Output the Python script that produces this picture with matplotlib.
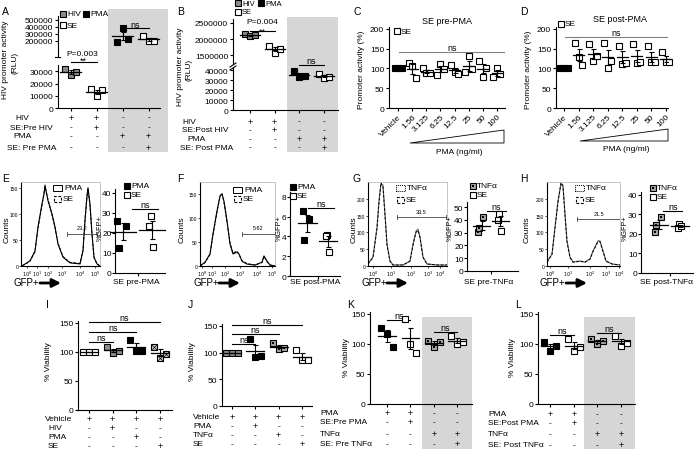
import numpy as np
import matplotlib
matplotlib.use('Agg')
import matplotlib.pyplot as plt
import matplotlib.transforms as mtrans
from matplotlib.patches import Rectangle, Polygon
from matplotlib.lines import Line2D
from matplotlib.ticker import FormatStrFormatter

plt.rcParams['font.family'] = ['Liberation Sans', 'DejaVu Sans']

# ---------------- data ----------------
# A: HIV promoter activity (RLU), SE pre-treatment
A_hiv = [32000, 27000, 29500]
A_se_hiv = [15500, 10000, 14500]
A_pma = [190000, 390000, 230000]
A_se_pma = [265000, 205000, 205000]
A_rows = ["HIV", "SE:Pre HIV", "PMA", "SE: Pre PMA"]
A_signs = ["++--", "-+--", "--++", "---+"]
# B: SE post-treatment
B_hiv = [2150000, 2080000, 2130000]
B_se_hiv = [1780000, 1580000, 1700000]
B_pma = [39000, 33000, 34500]
B_se_pma = [36000, 32000, 33500]
B_rows = ["HIV", "SE:Post HIV", "PMA", "SE: Post PMA"]
B_signs = ["++--", "-+--", "--++", "---+"]
# C, D: promoter activity (%) vs PMA dose
dose_labels = ["Vehicle", "1.56", "3.125", "6.25", "12.5", "25", "50", "100"]
C_vals = [[100, 100, 100], [113, 107, 76], [101, 88, 88], [84, 112, 99],
          [109, 91, 87], [91, 131, 99], [120, 78, 101], [78, 101, 87]]
D_vals = [[100, 100, 100], [164, 129, 109], [161, 118, 131], [164, 101, 120],
          [158, 111, 115], [161, 115, 116], [156, 116, 117], [141, 116, 116]]
# E-H: flow histograms (channel position, counts)
E_x = [1, 9, 14, 17, 21, 23, 24, 27, 31, 34, 37, 42, 49, 59, 62, 64, 66, 67, 69, 71, 73, 76, 79]
E_pma = [0, 10, 29, 75, 119, 138, 155, 125, 100, 75, 42, 17, 6, 4, 29, 87, 133, 150, 119, 62, 17, 4, 0]
E_se = [0, 9, 27, 72, 117, 140, 152, 128, 98, 73, 44, 18, 7, 5, 31, 90, 136, 147, 115, 60, 16, 4, 0]
F_x = [0, 5, 10, 13, 17, 20, 22, 24, 27, 30, 33, 37, 39, 42, 47, 55, 62, 64, 67, 70, 75]
F_pma = [0, 8, 25, 67, 115, 146, 150, 135, 94, 46, 25, 29, 25, 10, 4, 2, 8, 21, 10, 2, 0]
F_se = [0, 7, 24, 65, 112, 144, 152, 132, 92, 48, 27, 31, 24, 11, 5, 2, 7, 20, 9, 2, 0]
G_x = [0, 5, 9, 11, 13, 15, 17, 19, 22, 25, 35, 42, 45, 48, 50, 52, 55, 59, 69, 79]
G_tnf = [6, 27, 116, 194, 245, 240, 155, 66, 15, 3, 3, 15, 66, 104, 110, 87, 27, 6, 3, 3]
G_se = [6, 25, 112, 190, 248, 236, 150, 62, 14, 3, 3, 14, 62, 100, 106, 84, 26, 6, 3, 3]
H_x = [0, 5, 8, 11, 14, 16, 18, 20, 23, 26, 33, 38, 43, 46, 51, 53, 56, 59, 65, 73]
H_tnf = [12, 36, 116, 194, 245, 240, 155, 75, 27, 12, 15, 12, 21, 45, 75, 75, 45, 15, 6, 3]
H_se = [11, 34, 112, 190, 248, 236, 150, 72, 25, 11, 14, 11, 20, 43, 72, 72, 43, 14, 6, 3]
E_gate, F_gate, G_gate, H_gate = "23.2", "5.62", "33.5", "21.5"
# %GFP+ scatter
E_pma_pct = [26, 23.5, 12.5]
E_se_pct = [28.5, 23.5, 13]
F_pma_pct = [6.6, 5.75, 3.6]
F_se_pct = [4.1, 4.0, 2.4]
G_tnf_pct = [30.5, 42, 34]
G_se_pct = [45, 40, 31.5]
H_tnf_pct = [20.8, 28.7, 24.7]
H_se_pct = [25.2, 22.9, 24.3]
# I-L: % viability
I_vals = [[100, 100, 100], [108, 98, 101], [121, 101, 101], [109, 89, 97]]
I_rows = ["Vehicle", "HIV", "PMA", "SE"]
I_signs = ["++++", "-+--", "--+-", "---+"]
J_vals = [[100, 100, 100], [125, 92, 94], [118, 107, 109], [105, 86, 86]]
J_rows = ["Vehicle", "PMA", "TNF\u03b1", "SE"]
J_signs = ["++++", "-+--", "--+-", "---+"]
K_vals = [[127, 117, 95], [142, 100, 85], [105, 95, 103], [113, 100, 103]]
K_rows = ["PMA", "SE:Pre PMA", "TNF\u03b1", "SE: Pre TNF\u03b1"]
K_signs = ["++--", "-+--", "--++", "---+"]
L_vals = [[103, 88, 97], [108, 88, 95], [108, 100, 105], [113, 97, 102]]
L_rows = ["PMA", "SE:Post PMA", "TNF\u03b1", "SE: Post TNF\u03b1"]
L_signs = ["++--", "-+--", "--++", "---+"]

# ---------------- helpers ----------------
W, H = 696, 452
FS = 6
GRAY = '#d6d6d6'
HIVG = '#8c8c8c'
TNFG = '#a8a8a8'
fig = plt.figure(figsize=(W / 100, H / 100), dpi=100)


def axpx(l, t, r, b, box=False):
    ax = fig.add_axes([l / W, 1 - b / H, (r - l) / W, (b - t) / H])
    ax.set_facecolor('none')
    if box:
        for s in ('top', 'right'):
            ax.spines[s].set_color('#bbbbbb')
            ax.spines[s].set_linewidth(0.6)
    else:
        ax.spines['top'].set_visible(False)
        ax.spines['right'].set_visible(False)
    for s in ('left', 'bottom'):
        ax.spines[s].set_linewidth(0.8)
    ax.tick_params(labelsize=FS, length=2.5, width=0.8, pad=1)
    return ax


def ftext(x, y, s, **kw):
    kw.setdefault('fontsize', FS)
    kw.setdefault('va', 'center')
    fig.text(x / W, 1 - y / H, s, **kw)


def shade(l, t, r, b):
    fig.add_artist(Rectangle((l / W, 1 - b / H), (r - l) / W, (b - t) / H,
                             transform=fig.transFigure, facecolor=GRAY, lw=0, zorder=-5))


def fline(xs, ys, **kw):
    kw.setdefault('color', 'black')
    kw.setdefault('lw', 0.8)
    fig.add_artist(Line2D([x / W for x in xs], [1 - y / H for y in ys],
                          transform=fig.transFigure, **kw))


def legmark(x, y, face, kind='plain', label='', ms=5, fs=FS):
    fig.add_artist(Line2D([x / W], [1 - y / H], marker='s', ms=ms, mfc=face, mec='black', mew=0.8,
                          ls='none', transform=fig.transFigure))
    if kind == 'dot':
        fig.add_artist(Line2D([x / W], [1 - y / H], marker='s', ms=ms * 0.35, mfc='black', mec='black',
                              mew=0, ls='none', transform=fig.transFigure))
    ftext(x + 4, y, label, ha='left', fontsize=fs)


def group(ax, x, vals, face, kind='plain', offs=(-0.22, 0.0, 0.22), mw=0.35, ms=5.0, cap=1.8):
    xs = [x + o for o in offs]
    ax.plot(xs, vals, ls='none', marker='s', ms=ms, mfc=face, mec='black', mew=0.8, zorder=3, clip_on=False)
    if kind == 'dot':
        ax.plot(xs, vals, ls='none', marker='s', ms=ms * 0.35, mfc='black', mec='black', mew=0, zorder=4, clip_on=False)
    elif kind == 'x':
        ax.plot(xs, vals, ls='none', marker='x', ms=ms * 0.8, mec='black', mew=0.5, zorder=4, clip_on=False)
    m = float(np.mean(vals))
    se = float(np.std(vals, ddof=1) / np.sqrt(len(vals)))
    ax.plot([x - mw, x + mw], [m, m], color='black', lw=0.9, zorder=5, clip_on=False)
    ax.errorbar([x], [m], yerr=[se], fmt='none', ecolor='black', elinewidth=0.8, capsize=cap, capthick=0.8, zorder=5)


def bracket(ax, x1, x2, y, text, color='black'):
    ax.plot([x1, x2], [y, y], color=color, lw=0.8, clip_on=False)
    ax.text((x1 + x2) / 2, y, text, ha='center', va='bottom', fontsize=FS + 0.5, clip_on=False)


def fbracket(ax, x1, x2, ypx, text, tdy=3.5):
    tr = mtrans.blended_transform_factory(ax.transData, fig.transFigure)
    ax.plot([x1, x2], [1 - ypx / H] * 2, color='black', lw=0.8, transform=tr, clip_on=False)
    ax.text((x1 + x2) / 2, 1 - (ypx - tdy) / H, text, transform=tr, ha='center', va='center',
            fontsize=FS + 0.5, clip_on=False)


def table(ax, rows, signs, lx, ys):
    tr = mtrans.blended_transform_factory(ax.transData, fig.transFigure)
    for lab, x0, y, sg in zip(rows, lx, ys, signs):
        ftext(x0, y, lab, ha='left')
        for i, s in enumerate(sg):
            ax.text(i + 1, 1 - y / H, s, transform=tr, ha='center', va='center', fontsize=FS + 0.5 if s == '+' else FS,
                    clip_on=False)


def letter(x, y, s):
    ftext(x, y, s, fontsize=7.5, ha='left')


# ---------------- A ----------------
shade(108, 10, 168, 153)
axA1 = axpx(58, 17, 160, 58)
axA2 = axpx(58, 66, 160, 109.3)
for ax in (axA1, axA2):
    ax.set_xlim(0.51, 4.44)
    ax.yaxis.set_major_formatter(FormatStrFormatter('%d'))
axA1.set_ylim(-28600, 557000)
axA1.set_yticks([200000, 300000, 400000, 500000])
axA1.spines['bottom'].set_visible(False)
axA1.set_xticks([])
axA2.set_ylim(0, 35000)
axA2.set_yticks([0, 10000, 20000, 30000])
axA2.set_xticks([1, 2, 3, 4])
axA2.set_xticklabels([])
fline([55, 60], [58, 58])
group(axA2, 1, A_hiv, HIVG, mw=0.4)
group(axA2, 2, A_se_hiv, 'white', mw=0.4)
group(axA1, 3, A_pma, 'black', mw=0.4)
group(axA1, 4, A_se_pma, 'white', mw=0.4)
fbracket(axA2, 1, 2, 63, "**", tdy=2)
ftext(82, 54.5, "P=0.003", ha='center')
fbracket(axA1, 3, 4, 29, "ns")
table(axA2, A_rows, A_signs, [15, 10, 13, 7], [118, 128, 137, 148])
legmark(63, 15, HIVG, label="HIV")
legmark(86, 15, 'black', label="PMA")
legmark(63, 26, 'white', label="SE")
ftext(6, 60, "HIV promoter activity", rotation=90, ha='center')
ftext(15, 63, "(RLU)", rotation=90, ha='center')
letter(2, 12, "A")

# ---------------- B ----------------
shade(287, 18, 338, 153)
axB1 = axpx(233, 20, 338, 65)
axB2 = axpx(233, 69, 338, 111)
for ax in (axB1, axB2):
    ax.set_xlim(0.31, 4.57)
    ax.yaxis.set_major_formatter(FormatStrFormatter('%d'))
axB1.set_ylim(1227000, 2621000)
axB1.set_yticks([1500000, 2000000, 2500000])
axB1.spines['bottom'].set_visible(False)
axB1.set_xticks([])
axB2.set_ylim(0, 42000)
axB2.set_yticks([0, 10000, 20000, 30000, 40000])
axB2.set_xticks([1, 2, 3, 4])
axB2.set_xticklabels([])
fline([230, 236], [68, 64])
fline([230, 236], [71, 67])
group(axB1, 1, B_hiv, HIVG, mw=0.4)
group(axB1, 2, B_se_hiv, 'white', mw=0.4)
group(axB2, 3, B_pma, 'black', mw=0.4)
group(axB2, 4, B_se_pma, 'white', mw=0.4)
fbracket(axB1, 1, 2, 32, "**", tdy=-0.5)
ftext(262, 23, "P=0.004", ha='center')
fbracket(axB2, 3, 4, 66, "ns", tdy=4.5)
table(axB2, B_rows, B_signs, [182, 182, 187, 180], [122, 131, 139.5, 148])
legmark(238, 4, HIVG, label="HIV", fs=5.5)
legmark(261, 4, 'black', label="PMA", fs=5.5)
legmark(238, 13, 'white', label="SE", fs=5.5)
ftext(181, 67, "HIV promoter activity", rotation=90, ha='center')
ftext(189, 70, "(RLU)", rotation=90, ha='center')
letter(177, 12, "B")


# ---------------- C, D ----------------
def dose_panel(l, r, xl, vals, title, tx, ty, leg, nsy, nsx, wedge, ylx, lett):
    ax = axpx(l, 28, r, 109)
    ax.set_xlim(*xl)
    ax.set_ylim(0, 205)
    ax.set_yticks([0, 50, 100, 150, 200])
    ax.set_xticks(range(len(dose_labels)))
    ax.set_xticklabels(dose_labels, rotation=45, ha='right', rotation_mode='anchor', fontsize=FS)
    for i, v in enumerate(vals):
        group(ax, i, v, 'black' if i == 0 else 'white', offs=(-0.25, 0, 0.25), mw=0.38, ms=5)
    bracket(ax, nsx[0], nsx[1], nsy, "ns", color='#808080')
    ftext(tx, ty, title, ha='center', fontsize=FS + 0.5)
    legmark(leg[0], leg[1], 'white', label="SE")
    x0, x1, yb, yt = wedge
    fig.add_artist(Polygon([(x0 / W, 1 - yb / H), (x1 / W, 1 - yb / H), (x1 / W, 1 - yt / H)], closed=True,
                           fill=False, ec='black', lw=0.6, transform=fig.transFigure))
    ftext((x0 + x1) / 2 + 2, yb + 8, "PMA (ng/ml)", ha='center')
    ftext(ylx, 70, "Promoter activity (%)", rotation=90, ha='center')
    letter(l - 36, 12, lett)
    return ax


dose_panel(389, 505, (-0.64, 7.57), C_vals, "SE pre-PMA", 447, 21, (397, 32), 142, (0.1, 7.5),
           (410, 504, 144, 131), 362, "C")
dose_panel(556, 668, (-0.55, 7.15), D_vals, "SE post-PMA", 620, 20, (561, 25), 180, (0.05, 7.1),
           (580, 668, 142, 130), 528, "D")


# ---------------- E-H histograms ----------------
def hist_panel(l, r, ymax, yticks, xs, c1, c2, ticks, tlabels, gate, gate_lab, leg1, leg2, style1,
               cx, lett, lx):
    ax = axpx(l, 183, r, 267, box=True)
    ax.set_xlim(0, r - l)
    ax.set_ylim(0, ymax)
    ax.plot(xs, c1, color='black' if style1 == '-' else '#666666', lw=0.8, ls='-')
    ax.plot(xs, c2, color='black', lw=0.7, ls=(0, (3, 1.5)))
    ax.set_yticks(yticks)
    ax.set_xticks(ticks)
    ax.set_xticklabels(tlabels)
    ax.tick_params(labelsize=3.6, length=1.5, width=0.5, pad=0.5)
    g0, g1, gy = gate
    ax.plot([g0, g1], [gy, gy], color='#444444', lw=0.6)
    for g in (g0, g1):
        ax.plot([g, g], [gy - ymax * 0.025, gy + ymax * 0.025], color='#444444', lw=0.6)
    ax.text((g0 + g1) / 2, gy + ymax * 0.04, gate_lab, ha='center', va='bottom', fontsize=4)
    # legend
    x, y, lab = leg1
    fig.add_artist(Rectangle(((x - 4) / W, 1 - (y + 3) / H), 9 / W, 6 / H, fill=False, ec='black', lw=0.7,
                             ls=style1 if style1 == '-' else (0, (1, 1)), transform=fig.transFigure))
    ftext(x + 7, y, lab, ha='left')
    x, y, lab = leg2
    fig.add_artist(Rectangle(((x - 3.5) / W, 1 - (y + 3) / H), 7 / W, 6 / H, fill=False, ec='black', lw=0.8,
                             ls=(0, (2.5, 1.5)), transform=fig.transFigure))
    ftext(x + 6, y, lab, ha='left')
    ftext(cx, 230, "Counts", rotation=90, ha='center')
    ftext(l - 7, 283, "GFP+", ha='left', fontsize=FS + 1)
    ax.annotate('', xy=((l + 40) / W, 1 - 284 / H), xytext=((l + 19) / W, 1 - 284 / H),
                xycoords='figure fraction', textcoords='figure fraction',
                arrowprops=dict(arrowstyle='-|>,head_length=0.5,head_width=0.25', lw=2, color='black',
                                shrinkA=0, shrinkB=0))
    letter(lx, 179, lett)
    return ax


hist_panel(21, 100, 161, [0, 50, 100, 150], E_x, E_pma, E_se, [6, 16, 27, 41, 59, 74],
           ['$10^0$', '$10^1$', '$10^2$', '$10^3$', '$10^4$', '$10^5$'], (46, 76, 62), E_gate,
           (57, 189, "PMA"), (57, 200, "SE"), '-', 7, "E", 2)
hist_panel(200, 275, 175, [0, 50, 100, 150], F_x, F_pma, F_se, [2, 12, 25, 40, 57, 72],
           ['$10^0$', '$10^1$', '$10^2$', '$10^3$', '$10^4$', '$10^5$'], (42, 75, 67), F_gate,
           (237, 191, "PMA"), (237, 200, "SE"), '-', 182, "F", 177)
hist_panel(368, 447, 250, [0, 50, 100, 150, 200], G_x, G_tnf, G_se, [5, 23, 43, 60, 72],
           ['$10^0$', '$10^1$', '$10^2$', '$10^3$', '$10^4$'], (29, 78, 146), G_gate,
           (400, 189, "TNF\u03b1"), (400, 201, "SE"), ':', 354, "G", 352)
hist_panel(547, 620, 250, [0, 50, 100, 150, 200], H_x, H_tnf, H_se, [3, 21, 43, 59, 72],
           ['$10^0$', '$10^1$', '$10^2$', '$10^3$', '$10^4$'], (30, 73, 140), H_gate,
           (579, 189, "TNF\u03b1"), (579, 201, "SE"), ':', 527, "H", 520)


# ---------------- E-H scatter ----------------
def pct_panel(l, t, r, b, xl, ymax, yticks, v1, v2, f1, k1, nsy, nsx, leg, lab1, xlab, xlabx, ylx):
    ax = axpx(l, t, r, b)
    ax.tick_params(pad=0.5, length=2)
    ax.set_xlim(*xl)
    ax.set_ylim(0, ymax)
    ax.set_yticks(yticks)
    ax.set_xticks([1.5])
    ax.set_xticklabels([])
    group(ax, 1, v1, f1, kind=k1, offs=(-0.2, 0.1, -0.15), mw=0.45)
    group(ax, 2, v2, 'white', offs=(-0.05, -0.1, 0.05), mw=0.45)
    bracket(ax, nsx[0], nsx[1], nsy, "ns")
    legmark(leg[0], leg[1], f1, kind=k1, label=lab1)
    legmark(leg[0], leg[1] + 8.5, 'white', label="SE")
    ftext(xlabx, 283, xlab, ha='center')
    ftext(ylx, 228, "%GFP+", rotation=90, ha='center', fontsize=5.2)
    return ax


pct_panel(115, 190, 165, 274, (0.72, 2.45), 42, [0, 10, 20, 30, 40], E_pma_pct, E_se_pct, 'black', 'plain',
          32, (1.3, 2.2), (127, 187), "PMA", "SE pre-PMA", 136, 100)
pct_panel(290, 193, 340, 277, (0.15, 2.6), 8.5, [0, 2, 4, 6, 8], F_pma_pct, F_se_pct, 'black', 'plain',
          6.9, (1.05, 2.3), (293, 188), "PMA", "SE post-PMA", 315, 279)
pct_panel(467, 203, 518, 272, (0.22, 2.95), 54, [0, 10, 20, 30, 40, 50], G_tnf_pct, G_se_pct, TNFG, 'dot',
          47, (1.3, 2.3), (473, 187), "TNF\u03b1", "SE pre-TNF\u03b1", 489, 450)
pct_panel(641, 193, 693, 274, (0.14, 2.62), 41.5, [0, 10, 20, 30, 40], H_tnf_pct, H_se_pct, TNFG, 'dot',
          32, (1.2, 2.1), (653, 189), "TNF\u03b1", "SE post-TNF\u03b1", 667, 625)


# ---------------- I-L viability ----------------
def via_panel(l, t, r, b, xl, ymax, vals, faces, kinds, rows, signs, lx, rys, ylxy, lett, lxy):
    ax = axpx(l, t, r, b)
    ax.set_xlim(*xl)
    ax.set_ylim(0, ymax)
    ax.set_yticks([0, 50, 100, 150])
    ax.set_xticks([1, 2, 3, 4])
    ax.set_xticklabels([])
    for i, (v, f, k) in enumerate(zip(vals, faces, kinds)):
        group(ax, i + 1, v, f, kind=k, offs=(-0.25, 0.0, 0.25), mw=0.38)
    table(ax, rows, signs, lx, rys)
    ftext(ylxy[0], ylxy[1], "% Viability", rotation=90, ha='center')
    letter(lxy[0], lxy[1], lett)
    return ax


axI = via_panel(78, 322, 172, 411, (0.54, 4.5), 153, I_vals, ['white', HIVG, 'black', '#d0d0d0'],
                ['plain', 'plain', 'plain', 'x'], I_rows, I_signs, [45, 48, 48, 48], [420, 429, 438, 447],
                (48, 362), "I", (46, 305))
bracket(axI, 1, 2, 117, "ns")
bracket(axI, 1, 3, 134, "ns")
bracket(axI, 1, 4, 151, "ns")
axJ = via_panel(222, 325, 312, 407, (0.57, 4.43), 153.7, J_vals, [HIVG, 'black', TNFG, 'white'],
                ['plain', 'plain', 'dot', 'plain'], J_rows, J_signs, [193, 193, 193, 193], [418, 427, 436, 445],
                (193, 362), "J", (188, 305))
bracket(axJ, 1, 2, 116, "ns")
bracket(axJ, 1, 3, 135, "ns")
bracket(axJ, 1, 4, 152, "ns")
shade(422, 318, 472, 450)
axK = via_panel(370, 313, 472, 405, (0.27, 4.64), 153, K_vals, ['black', 'white', TNFG, 'white'],
                ['plain', 'plain', 'dot', 'plain'], K_rows, K_signs, [320, 320, 320, 320], [414, 423, 435, 445],
                (347, 358), "K", (347, 305))
bracket(axK, 1, 2, 140, "ns")
bracket(axK, 3, 4, 120, "ns")
shade(584, 318, 635, 450)
axL = via_panel(538, 313, 635, 405, (0.49, 4.59), 153, L_vals, ['black', 'white', TNFG, 'white'],
                ['plain', 'plain', 'dot', 'plain'], L_rows, L_signs, [488, 488, 488, 488], [415, 424, 435, 446],
                (512, 358), "L", (515, 305))
bracket(axL, 1, 2, 115, "ns")
bracket(axL, 3, 4, 118, "ns")

fig.savefig('out.png', dpi=100)
